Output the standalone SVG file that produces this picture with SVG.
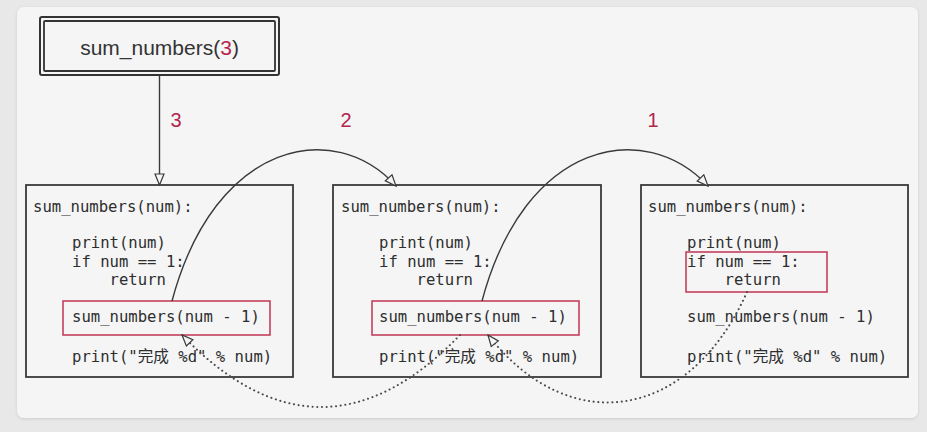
<svg xmlns="http://www.w3.org/2000/svg" width="927" height="432" viewBox="0 0 927 432">
<style>
.frame{fill:#f5f5f6;stroke:#3a3a3a;stroke-width:1.8}
.code{font-family:"DejaVu Sans Mono","Noto Sans CJK SC",monospace;font-size:15.6px;fill:#2e2e2e}
.hl{fill:none;stroke:#c4405e;stroke-width:1.6}
.lbl{font-family:"Liberation Sans",Arial,sans-serif;font-size:20px;fill:#b3264a;text-anchor:middle}
.solid{fill:none;stroke:#3a3a3a;stroke-width:1.4;marker-end:url(#arr)}
.dot{fill:none;stroke:#4a4a4a;stroke-width:2;stroke-dasharray:0.1 4.6;stroke-linecap:round;marker-end:url(#arr)}
</style>
<defs>
<marker id="arr" viewBox="-13 -7 14 14" markerWidth="14" markerHeight="14" refX="0" refY="0" orient="auto" markerUnits="userSpaceOnUse">
<path d="M0,0 L-11,-4.5 L-11,4.5 Z" fill="#f5f5f6" stroke="#3a3a3a" stroke-width="1.2" stroke-dasharray="none" stroke-linejoin="miter"/>
</marker>
<filter id="sh" x="-2%" y="-2%" width="104%" height="105%">
<feDropShadow dx="0" dy="1" stdDeviation="1.5" flood-color="#000" flood-opacity="0.12"/>
</filter>
</defs>
<rect x="0" y="0" width="927" height="432" fill="#e8e8e9"/>
<rect x="17" y="7" width="901" height="411" rx="7" fill="#f5f5f6" filter="url(#sh)"/>

<g id="start">
<rect x="40" y="17" width="239" height="58" rx="2" fill="#f5f5f6" stroke="#333" stroke-width="2"/>
<rect x="44" y="21" width="231" height="50" rx="1" fill="none" stroke="#333" stroke-width="1.8"/>
<text x="159.5" y="55" font-family="Liberation Sans, Arial, sans-serif" font-size="21" fill="#333" text-anchor="middle">sum_numbers(<tspan fill="#b3264a">3</tspan>)</text>
</g>

<g id="call3">
<rect class="frame" x="26" y="185" width="267" height="192"/>
<rect class="hl" x="63" y="301" width="207" height="34"/>
<text class="code" x="33" y="212">sum_numbers(num):</text>
<text class="code" x="72" y="248">print(num)</text>
<text class="code" x="72" y="267">if num == 1:</text>
<text class="code" x="109.6" y="285">return</text>
<text class="code" x="72" y="322">sum_numbers(num - 1)</text>
<text class="code" x="72" y="362">print("完成 %d" % num)</text>
</g>

<g id="call2">
<rect class="frame" x="333" y="185" width="268" height="192"/>
<rect class="hl" x="372" y="301" width="207" height="34"/>
<text class="code" x="341" y="212">sum_numbers(num):</text>
<text class="code" x="379" y="248">print(num)</text>
<text class="code" x="379" y="267">if num == 1:</text>
<text class="code" x="416.6" y="285">return</text>
<text class="code" x="379" y="322">sum_numbers(num - 1)</text>
<text class="code" x="379" y="362">print("完成 %d" % num)</text>
</g>

<g id="call1">
<rect class="frame" x="641" y="185" width="267" height="192"/>
<rect class="hl" x="686" y="252" width="141" height="40"/>
<text class="code" x="648" y="212">sum_numbers(num):</text>
<text class="code" x="687" y="248">print(num)</text>
<text class="code" x="687" y="267">if num == 1:</text>
<text class="code" x="724.6" y="285">return</text>
<text class="code" x="687" y="322">sum_numbers(num - 1)</text>
<text class="code" x="687" y="362">print("完成 %d" % num)</text>
</g>

<g id="connectors">
<line class="solid" x1="159.5" y1="75" x2="159.5" y2="185"/>
<path class="solid" d="M172,301 C215,140 335,118 396,186"/>
<path class="solid" d="M482,301 C525,140 645,118 708,186"/>
<path class="dot" d="M747,292 C690,420 570,440 488,335"/>
<path class="dot" d="M460,335 Q321,479 182,335"/>
<text class="lbl" x="176" y="127">3</text>
<text class="lbl" x="346" y="127">2</text>
<text class="lbl" x="653" y="127">1</text>
</g>
</svg>
